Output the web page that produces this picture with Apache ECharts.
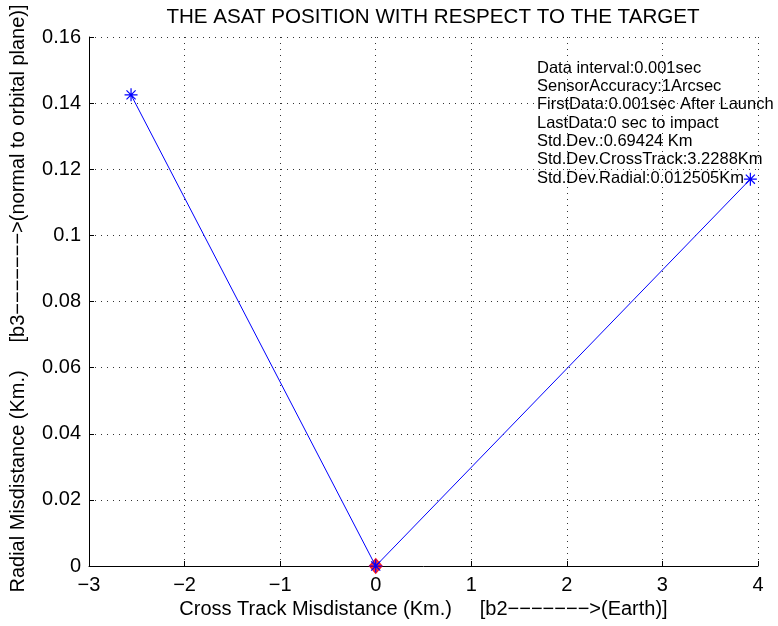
<!DOCTYPE html>
<html>
<head>
<meta charset="utf-8">
<script src="https://cdn.jsdelivr.net/npm/echarts@6/dist/echarts.min.js"></script>
<style>html,body{margin:0;padding:0;background:#fff;}#c{width:778px;height:626px;}</style>
</head>
<body>
<div id="c"></div>
<script>
var titleText = 'THE ASAT POSITION WITH RESPECT TO THE TARGET';
var xLabel = 'Cross Track Misdistance (Km.)     [b2\u2212\u2212\u2212\u2212\u2212\u2212\u2212>(Earth)]';
var yLabel = 'Radial Misdistance (Km.)     [b3\u2212\u2212\u2212\u2212\u2212\u2212\u2212>(normal to orbital plane)]';
var crossTrack = [-2.56, 0, 3.92];
var radial = [0.1425, 0, 0.117];
var targetX = [0];
var targetY = [0];
var infoLines = [
  'Data interval:0.001sec',
  'SensorAccuracy:1Arcsec',
  'FirstData:0.001sec After Launch',
  'LastData:0 sec to impact',
  'Std.Dev.:0.69424 Km',
  'Std.Dev.CrossTrack:3.2288Km',
  'Std.Dev.Radial:0.012505Km'
];
var xTicks = {min: -3, max: 4, interval: 1};
var yTicks = {min: 0, max: 0.16, interval: 0.02};

var font = 'Liberation Sans, Arial, Helvetica, sans-serif';
var chart = echarts.init(document.getElementById('c'), null, {renderer: 'canvas'});
var asterisk = 'path://M0,-6L0,6M-6,0L6,0M-4.2,-4.2L4.2,4.2M-4.2,4.2L4.2,-4.2';
function fmt(v){ return v === 0 ? '0' : String(+v.toFixed(2)).replace('-', '\u2212'); }
chart.setOption({
  animation: false,
  backgroundColor: '#fff',
  title: {
    text: titleText, left: 428, top: 2, textAlign: 'center',
    textStyle: {fontFamily: font, fontSize: 20.6, fontWeight: 'normal', color: '#000'}
  },
  grid: {left: 89, right: 20, top: 37, bottom: 60},
  xAxis: {
    type: 'value', min: xTicks.min, max: xTicks.max, interval: xTicks.interval,
    name: xLabel, nameLocation: 'middle', nameGap: 29,
    nameTextStyle: {fontFamily: font, fontSize: 20, color: '#000'},
    axisLine: {show: true, onZero: false, lineStyle: {color: '#000', width: 1}},
    axisTick: {show: true, inside: true, length: 5, lineStyle: {color: '#000'}},
    axisLabel: {fontFamily: font, fontSize: 20, color: '#000', margin: 9, formatter: fmt},
    splitLine: {show: true, lineStyle: {color: '#333', width: 1, type: [1, 5]}}
  },
  yAxis: {
    type: 'value', min: yTicks.min, max: yTicks.max, interval: yTicks.interval,
    name: yLabel, nameLocation: 'middle', nameGap: 61,
    nameTextStyle: {fontFamily: font, fontSize: 20, color: '#000', padding: [0, 0, 0, 6]},
    axisLine: {show: true, onZero: false, lineStyle: {color: '#000', width: 1}},
    axisTick: {show: true, inside: true, length: 5, lineStyle: {color: '#000'}},
    axisLabel: {fontFamily: font, fontSize: 20, color: '#000', margin: 8, formatter: fmt},
    splitLine: {show: true, lineStyle: {color: '#333', width: 1, type: [1, 5]}}
  },
  graphic: [{
    type: 'text', left: 537, top: 59, z: 10,
    style: {
      text: infoLines.join('\n'), fontFamily: font, fontSize: 16.5, lineHeight: 18.33,
      fill: '#000'
    }
  }],
  series: [{
    type: 'scatter', z: 2,
    data: targetX.map(function(x, i){ return [x, targetY[i]]; }),
    symbol: 'diamond', symbolSize: [13, 15],
    itemStyle: {color: '#ff0000', borderColor: '#ff0000', borderWidth: 1},
    clip: false
  }, {
    type: 'line', z: 3,
    data: crossTrack.map(function(x, i){ return [x, radial[i]]; }),
    lineStyle: {color: '#0000ff', width: 1},
    symbol: asterisk, symbolSize: 13, showAllSymbol: true,
    itemStyle: {color: 'none', borderColor: '#0000ff', borderWidth: 1.2},
    clip: false
  }]
});
</script>
</body>
</html>
